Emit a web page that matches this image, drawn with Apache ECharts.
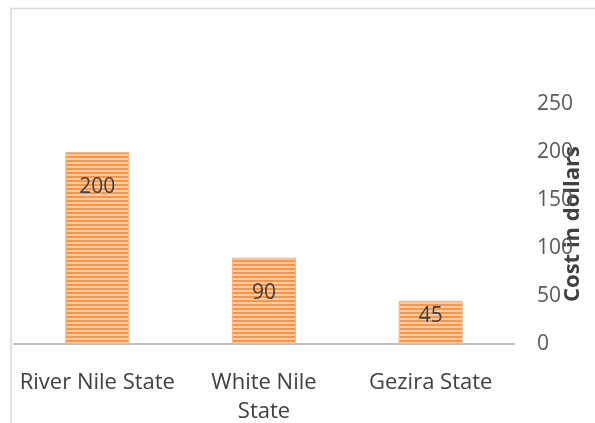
<!DOCTYPE html>
<html>
<head>
<meta charset="utf-8">
<style>
  html, body { margin: 0; padding: 0; background: #ffffff; }
  #chart { width: 595px; height: 423px; }
</style>
<script src="https://cdn.jsdelivr.net/npm/echarts@6/dist/echarts.min.js"></script>
</head>
<body>
<div id="chart"></div>
<script>
// Cost per state, in dollars
const categories = ['River Nile State', 'White Nile State', 'Gezira State'];
const costs = [200, 90, 45];
const yTicks = [0, 50, 100, 150, 200, 250];

// Horizontal stripe pattern used to fill the bars
function stripePattern() {
  const c = document.createElement('canvas');
  c.width = 4; c.height = 4;
  const ctx = c.getContext('2d');
  ctx.fillStyle = '#fbcba3';
  ctx.fillRect(0, 0, 4, 4);
  ctx.fillStyle = '#f7964a';
  ctx.fillRect(0, 0, 4, 2);
  return c;
}

const chart = echarts.init(document.getElementById('chart'), null, { renderer: 'canvas' });
const fontFamily = '"Open Sans", "Noto Sans", sans-serif';

chart.setOption({
  animation: false,
  backgroundColor: '#ffffff',
  textStyle: { fontFamily: fontFamily },
  graphic: [{
    type: 'rect',
    shape: { x: 11, y: 8.5, width: 620, height: 440 },
    style: { fill: 'none', stroke: '#d9d9d9', lineWidth: 1.5 },
    silent: true
  }],
  grid: { left: 14, right: 81, top: 104, bottom: 79, containLabel: false, outerBoundsMode: 'none' },
  xAxis: {
    type: 'category',
    data: categories,
    axisLine: { lineStyle: { color: '#bfbfbf', width: 2 } },
    axisTick: { show: false },
    axisLabel: {
      color: '#404040',
      fontSize: 22,
      margin: 24,
      lineHeight: 29,
      interval: 0,
      formatter: v => v === 'White Nile State' ? 'White Nile\nState' : v
    }
  },
  yAxis: {
    type: 'value',
    position: 'right',
    min: yTicks[0],
    max: yTicks[yTicks.length - 1],
    interval: 50,
    axisLine: { show: false },
    axisTick: { show: false },
    splitLine: { show: false },
    axisLabel: { color: '#595959', fontSize: 21, margin: 23, align: 'left', padding: [7, 0, 0, 0] },
    name: 'Cost in dollars',
    nameLocation: 'middle',
    nameRotate: 90,
    nameGap: 48,
    nameMoveOverlap: false,
    nameTextStyle: { color: '#404040', fontSize: 22, fontWeight: 'bold', fontFamily: fontFamily }
  },
  series: [{
    type: 'bar',
    barWidth: 64,
    data: costs.map(v => ({
      value: v,
      label: { distance: v < 60 ? 5 : 25 }
    })),
    itemStyle: {
      color: { image: stripePattern(), repeat: 'repeat' },
      borderColor: '#fbb57e',
      borderWidth: 1
    },
    label: {
      show: true,
      position: 'insideTop',
      color: '#404040',
      fontSize: 21
    }
  }]
});
</script>
</body>
</html>
